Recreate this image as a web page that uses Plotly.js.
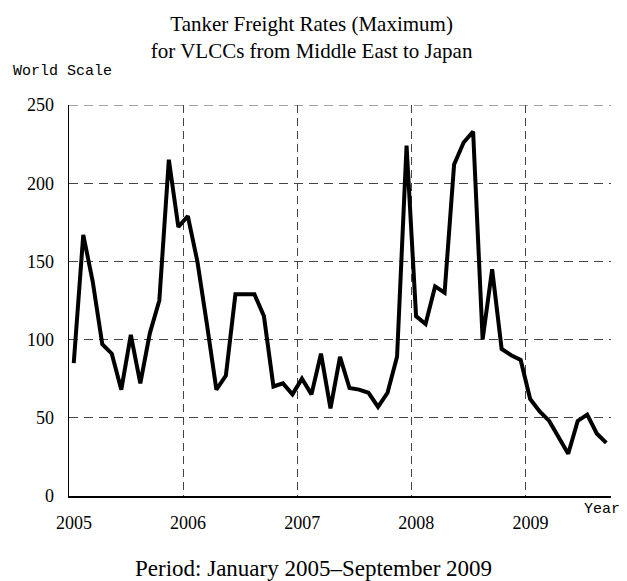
<!DOCTYPE html>
<html>
<head>
<meta charset="utf-8">
<script src="https://cdn.plot.ly/plotly-3.0.1.min.js"></script>
<style>html,body{margin:0;padding:0;background:#fff;}#chart{width:627px;height:581px;}</style>
</head>
<body>
<div id="chart"></div>
<script>
// Monthly maximum freight rates (World Scale), Jan 2005 – Sep 2009
var years = [2005, 2006, 2007, 2008, 2009];
var rates2005 = [85, 167, 137, 97, 91, 68, 103, 72, 104, 125, 215, 172];
var rates2006 = [179, 150, 110, 68, 77, 129, 129, 129, 115, 70, 72, 65];
var rates2007 = [75, 65, 91, 56, 89, 69, 68, 66, 57, 66, 89, 224];
var rates2008 = [115, 110, 134, 130, 212, 226, 233, 100, 145, 94, 90, 87];
var rates2009 = [62, 54, 48, 38, 27, 48, 52, 40, 34];
var yTicks = [0, 50, 100, 150, 200, 250];
var xTickLabels = ['2005', '2006', '2007', '2008', '2009'];

var series = [rates2005, rates2006, rates2007, rates2008, rates2009];
var xs = [], ys = [];
series.forEach(function (arr, k) {
  arr.forEach(function (v, m) {
    xs.push(years[k] + (m + 0.5) / 12);
    ys.push(v);
  });
});

var serif = 'Liberation Serif, Times New Roman, serif';
var mono = 'Liberation Mono, Courier New, monospace';

var trace = {
  x: xs, y: ys, type: 'scatter', mode: 'lines',
  line: {color: '#000', width: 4, shape: 'linear'},
  hoverinfo: 'skip'
};

var layout = {
  width: 627, height: 581,
  paper_bgcolor: '#fff', plot_bgcolor: '#fff',
  margin: {l: 69, r: 16, t: 105, b: 85},
  showlegend: false,
  title: {
    text: 'Tanker Freight Rates (Maximum)<br>for VLCCs from Middle East to Japan',
    font: {family: serif, size: 21, color: '#000'},
    xref: 'container', x: 0.497, xanchor: 'center',
    yref: 'container', y: 1 - 31 / 581, yanchor: 'top'
  },
  xaxis: {
    range: [2005, 2009.75],
    tickmode: 'array', tickvals: years, ticktext: xTickLabels,
    showgrid: true, gridcolor: '#444', gridwidth: 1, griddash: '8px,5px',
    showline: true, linecolor: '#000', linewidth: 1.5,
    ticks: '', zeroline: false,
    ticklabelstandoff: 10, ticklabelshift: 5,
    tickfont: {family: serif, size: 18, color: '#000'},
    fixedrange: true
  },
  yaxis: {
    range: [0, 250],
    tickmode: 'array', tickvals: yTicks,
    showgrid: true, gridcolor: '#444', gridwidth: 1, griddash: '9px,6px',
    showline: true, linecolor: '#000', linewidth: 1.5,
    ticks: '', zeroline: false,
    ticklabelstandoff: 10,
    tickfont: {family: serif, size: 18, color: '#000'},
    fixedrange: true
  },
  shapes: [
    {type: 'line', xref: 'paper', yref: 'y', x0: 0, x1: 1, y0: 250, y1: 250,
     line: {color: '#444', width: 1, dash: '9px,6px'}, layer: 'below'}
  ],
  annotations: [
    {text: 'World Scale', xref: 'paper', yref: 'paper', x: -0.107, y: (496 - 71) / 391,
     xanchor: 'left', yanchor: 'middle', showarrow: false,
     font: {family: mono, size: 15, color: '#000'}},
    {text: 'Year', xref: 'paper', yref: 'paper', x: 1.02, y: -0.035,
     xanchor: 'right', yanchor: 'middle', showarrow: false,
     font: {family: mono, size: 15, color: '#000'}},
    {text: 'Period: January 2005\u2013September 2009', xref: 'paper', yref: 'paper',
     x: (313 - 69) / 541.7, y: -72 / 391, xanchor: 'center', yanchor: 'middle', showarrow: false,
     font: {family: serif, size: 23, color: '#000'}}
  ]
};

Plotly.newPlot('chart', [trace], layout, {staticPlot: true, displayModeBar: false});
</script>
</body>
</html>
